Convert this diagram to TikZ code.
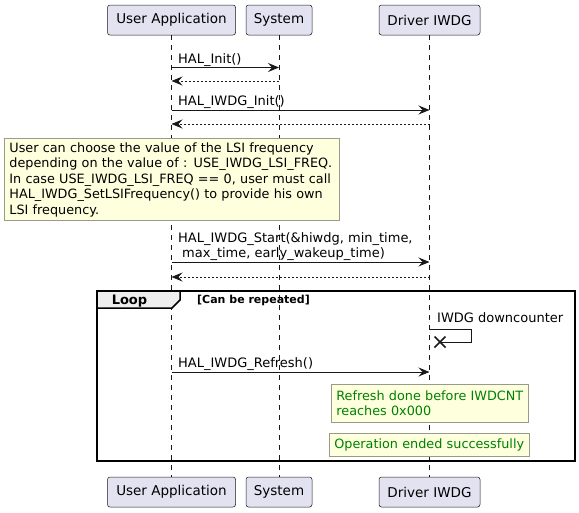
\documentclass[tikz,border=0pt]{standalone}
\usepackage{fontspec}
\setmainfont{DejaVu Sans}
\usetikzlibrary{arrows.meta,calc}
\definecolor{partfill}{HTML}{E2E2F0}
\definecolor{partdraw}{HTML}{181818}
\definecolor{notefill}{HTML}{FEFFDD}
\definecolor{notedraw}{HTML}{9A9A8A}
\definecolor{okgreen}{HTML}{008000}
\definecolor{tabfill}{HTML}{EEEEEE}
\tikzset{
  participant/.style={draw=partdraw, fill=partfill, rounded corners=2.5pt, line width=0.5pt,
    minimum height=30pt, inner sep=0pt, font=\fontsize{13.5}{16}\selectfont},
  lifeline/.style={draw=partdraw, line width=0.5pt, dash pattern=on 5pt off 5pt},
  msg/.style={draw=partdraw, line width=1pt, -{Stealth[length=11pt,width=9pt,inset=4pt]}},
  ret/.style={draw=partdraw, line width=0.8pt, dash pattern=on 2pt off 2pt, -{Stealth[length=11pt,width=9pt,inset=4pt]}},
  msglabel/.style={anchor=base west, inner sep=0pt, font=\fontsize{13}{15}\selectfont, align=left},
  notebox/.style={draw=notedraw, fill=notefill, line width=0.8pt, anchor=north west, align=left,
    inner xsep=5pt, inner ysep=4pt, font=\fontsize{12.8}{15.5}\selectfont},
  frame/.style={draw=black, line width=1.5pt},
}
\begin{document}
\begin{tikzpicture}[x=1pt, y=-1pt]
\useasboundingbox (0,0) rectangle (579,512);
% participants
\node[participant, minimum width=128pt] (uaT) at (171.5,20) {User Application};
\node[participant, minimum width=66pt] (sysT) at (279,20) {System};
\node[participant, minimum width=101pt] (drvT) at (429.5,20) {Driver IWDG};
\node[participant, minimum width=128pt] (uaB) at (171.5,492) {User Application};
\node[participant, minimum width=66pt] (sysB) at (279,492) {System};
\node[participant, minimum width=101pt] (drvB) at (429.5,492) {Driver IWDG};
% lifelines
\draw[lifeline] (uaT.south) -- (uaB.north);
\draw[lifeline] (sysT.south) -- (sysB.north);
\draw[lifeline] (drvT.south) -- (drvB.north);
% message points
\coordinate (ua1) at (171.5,67.5); \coordinate (sys1) at (279,67.5);
\coordinate (ua2) at (171.5,81); \coordinate (sys2) at (279,81);
\coordinate (ua3) at (171.5,110); \coordinate (drv3) at (429.5,110);
\coordinate (ua4) at (171.5,124); \coordinate (drv4) at (429.5,124);
\coordinate (ua5) at (171.5,262); \coordinate (drv5) at (429.5,262);
\coordinate (ua6) at (171.5,277); \coordinate (drv6) at (429.5,277);
\coordinate (drv7) at (429.5,329.5);
\coordinate (self7a) at (471,329.5);
\coordinate (self7b) at (471,342);
\coordinate (x7) at (440,342);
\coordinate (ua8) at (171.5,372); \coordinate (drv8) at (429.5,372);
% messages
\draw[msg] (ua1) -- (sys1);
\node[msglabel] (l1) at (178,63) {HAL\_Init()};
\draw[ret] (sys2) -- (ua2);
\draw[msg] (ua3) -- (drv3);
\node[msglabel] (l3) at (178,105.5) {HAL\_IWDG\_Init()};
\draw[ret] (drv4) -- (ua4);
% note 1
\node[notebox, minimum width=335pt, minimum height=82pt, text width=325pt] (n1) at (4,138)
  {\mbox{User can choose the value of the LSI frequency}\\\mbox{depending on the value of : USE\_IWDG\_LSI\_FREQ.}\\\mbox{In case USE\_IWDG\_LSI\_FREQ == 0, user must call}\\\mbox{HAL\_IWDG\_SetLSIFrequency() to provide his own}\\\mbox{LSI frequency.}};
% start
\draw[msg] (ua5) -- (drv5);
\node[msglabel] (l5a) at (178,242) {HAL\_IWDG\_Start(\&hiwdg, min\_time,};
\node[msglabel] (l5b) at (182,257) {max\_time, early\_wakeup\_time)};
\draw[ret] (drv6) -- (ua6);
% loop frame
\draw[frame] (97,291) rectangle (575,461);
\path[fill=tabfill, draw=black, line width=1.5pt] (97,291) -- (180,291) -- (180,300) -- (172,308) -- (97,308) -- cycle;
\node[anchor=base, inner sep=0pt, font=\fontsize{13}{15}\selectfont\bfseries] (looplbl) at (129.5,304.5) {Loop};
\node[anchor=base west, inner sep=0pt, font=\fontsize{11}{13}\selectfont\bfseries] (loopcond) at (197,303.5) {[Can be repeated]};
% self message
\node[msglabel] (l7) at (437,322) {IWDG downcounter};
\draw[partdraw, line width=1pt] (drv7) -- (self7a) -- (self7b) -- (x7);
\draw[partdraw, line width=1.5pt] ($(x7)+(-5.5,-5.5)$) -- ($(x7)+(5.5,5.5)$) ($(x7)+(-5.5,5.5)$) -- ($(x7)+(5.5,-5.5)$);
% refresh
\draw[msg] (ua8) -- (drv8);
\node[msglabel] (l8) at (178,367) {HAL\_IWDG\_Refresh()};
% notes 2, 3
\node[notebox, text=okgreen, minimum width=197pt, minimum height=38pt, text width=187pt] (n2) at (331,384)
  {\mbox{Refresh done before IWDCNT}\\\mbox{reaches 0x000}};
\node[notebox, text=okgreen, minimum width=200pt, minimum height=23pt, text width=190pt, inner ysep=2pt] (n3) at (329,433)
  {\mbox{Operation ended successfully}};
\end{tikzpicture}
\end{document}
